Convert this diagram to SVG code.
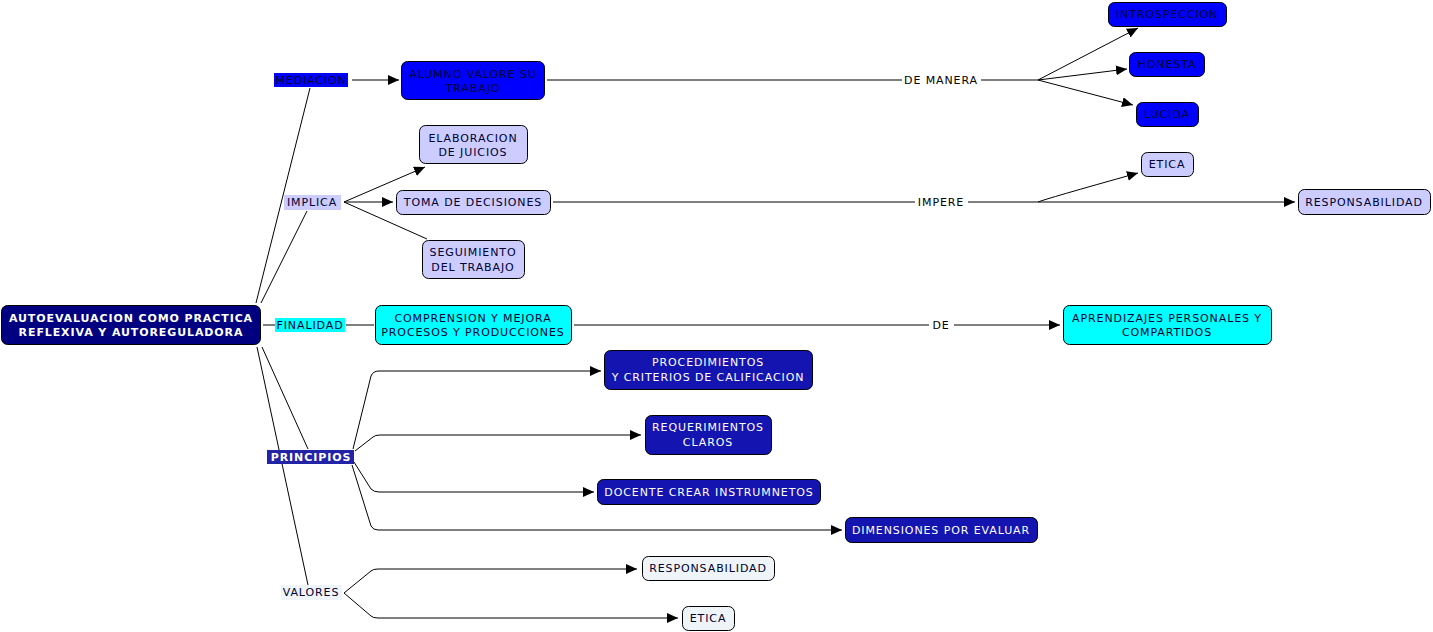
<svg xmlns="http://www.w3.org/2000/svg" width="1433" height="632" viewBox="0 0 1433 632">
<style>
text{font-family:"DejaVu Sans",Verdana,sans-serif;font-size:11px;letter-spacing:0.9px;text-anchor:middle;dominant-baseline:central}
.c{fill:none;stroke:#000;stroke-width:1}
.box{stroke:#000;stroke-width:1}
.dark{fill:#000033}
.wt{fill:#ffffff}
.bd{font-weight:bold}
</style>
<defs>
<marker id="ah" markerWidth="11" markerHeight="10" refX="11" refY="5" orient="auto" markerUnits="userSpaceOnUse">
<path d="M0,0 L11,5 L0,10 z" fill="#000"/>
</marker>
</defs>
<rect width="1433" height="632" fill="#fff"/>
<g id="connectors">
<line class="c" x1="256" y1="303" x2="310" y2="88"/>
<line class="c" x1="261" y1="303" x2="307" y2="211"/>
<line class="c" x1="263" y1="325" x2="275" y2="325"/>
<line class="c" x1="262" y1="347" x2="308" y2="449"/>
<line class="c" x1="257" y1="347" x2="308" y2="585"/>
<line class="c" x1="352" y1="80" x2="399" y2="80" marker-end="url(#ah)"/>
<line class="c" x1="547" y1="80" x2="902" y2="80"/>
<line class="c" x1="981" y1="80" x2="1038" y2="80"/>
<line class="c" x1="1038" y1="80" x2="1138" y2="28" marker-end="url(#ah)"/>
<line class="c" x1="1038" y1="80" x2="1127" y2="69" marker-end="url(#ah)"/>
<line class="c" x1="1038" y1="80" x2="1133" y2="105" marker-end="url(#ah)"/>
<line class="c" x1="344" y1="202" x2="425" y2="167" marker-end="url(#ah)"/>
<line class="c" x1="344" y1="202" x2="393" y2="202" marker-end="url(#ah)"/>
<line class="c" x1="344" y1="202" x2="427" y2="239"/>
<line class="c" x1="553" y1="202" x2="915" y2="202"/>
<line class="c" x1="968" y1="202" x2="1295" y2="202" marker-end="url(#ah)"/>
<path class="c" d="M1038,202 Q1045,199 1138,173" marker-end="url(#ah)"/>
<line class="c" x1="346" y1="325" x2="374" y2="325"/>
<line class="c" x1="574" y1="325" x2="929" y2="325"/>
<line class="c" x1="954" y1="325" x2="1060" y2="325" marker-end="url(#ah)"/>
<path class="c" d="M353,449 L371,376 Q373,371 379,371 L601,371" marker-end="url(#ah)"/>
<path class="c" d="M355,451 L373,437 Q375,435 380,435 L641,435" marker-end="url(#ah)"/>
<path class="c" d="M354,462 L371,489 Q374,492 379,492 L594,492" marker-end="url(#ah)"/>
<path class="c" d="M352,465 L371,526 Q373,530 378,530 L842,530" marker-end="url(#ah)"/>
<path class="c" d="M344,593 L371,571 Q373,569 378,569 L637,569" marker-end="url(#ah)"/>
<path class="c" d="M344,593 L371,616 Q373,618 378,618 L678,618" marker-end="url(#ah)"/>
</g>
<g id="main">
<rect class="box" x="1.5" y="305.5" width="259" height="39" rx="6" fill="#000080"/>
<text class="wt bd" x="131" y="318">AUTOEVALUACION COMO PRACTICA</text>
<text class="wt bd" x="131" y="332">REFLEXIVA Y AUTOREGULADORA</text>
</g>
<g id="mediacion">
<rect x="274" y="73" width="74" height="14" fill="#0000ff"/>
<text class="dark" x="311" y="80">MEDIACION</text>
</g>
<g id="alumno">
<rect class="box" x="401.5" y="61.5" width="143" height="38" rx="6" fill="#0000ff"/>
<text class="dark" x="473" y="74">ALUMNO VALORE SU</text>
<text class="dark" x="473" y="88">TRABAJO</text>
</g>
<g id="demanera"><text x="941" y="80">DE MANERA</text></g>
<g id="introspeccion">
<rect class="box" x="1108.5" y="2.5" width="118" height="24" rx="6" fill="#0000ff"/>
<text class="dark" x="1167" y="14">INTROSPECCION</text>
</g>
<g id="honesta">
<rect class="box" x="1129.5" y="52.5" width="75" height="24" rx="6" fill="#0000ff"/>
<text class="dark" x="1167" y="64">HONESTA</text>
</g>
<g id="lucida">
<rect class="box" x="1136.5" y="102.5" width="62" height="24" rx="6" fill="#0000ff"/>
<text class="dark" x="1167" y="114">LUCIDA</text>
</g>
<g id="implica">
<rect x="284" y="195" width="57" height="15" fill="#ccccff"/>
<text class="dark" x="312" y="202">IMPLICA</text>
</g>
<g id="elaboracion">
<rect class="box" x="419.5" y="125.5" width="108" height="38" rx="6" fill="#ccccff"/>
<text class="dark" x="473" y="138">ELABORACION</text>
<text class="dark" x="473" y="152">DE JUICIOS</text>
</g>
<g id="toma">
<rect class="box" x="396.5" y="190.5" width="154" height="24" rx="6" fill="#ccccff"/>
<text class="dark" x="473" y="202">TOMA DE DECISIONES</text>
</g>
<g id="seguimiento">
<rect class="box" x="422.5" y="240.5" width="102" height="38" rx="6" fill="#ccccff"/>
<text class="dark" x="473" y="252">SEGUIMIENTO</text>
<text class="dark" x="473" y="267">DEL TRABAJO</text>
</g>
<g id="impere"><text x="941" y="202">IMPERE</text></g>
<g id="etica1">
<rect class="box" x="1141.5" y="152.5" width="52" height="24" rx="6" fill="#ccccff"/>
<text class="dark" x="1167" y="164">ETICA</text>
</g>
<g id="responsabilidad1">
<rect class="box" x="1298.5" y="189.5" width="132" height="25" rx="6" fill="#ccccff"/>
<text class="dark" x="1364" y="202">RESPONSABILIDAD</text>
</g>
<g id="finalidad">
<rect x="275" y="318" width="70" height="14" fill="#00ffff"/>
<text class="dark" x="310" y="325">FINALIDAD</text>
</g>
<g id="comprension">
<rect class="box" x="375.5" y="305.5" width="196" height="39" rx="6" fill="#00ffff"/>
<text class="dark" x="473" y="318">COMPRENSION Y MEJORA</text>
<text class="dark" x="473" y="332">PROCESOS Y PRODUCCIONES</text>
</g>
<g id="de"><text x="941" y="325">DE</text></g>
<g id="aprendizajes">
<rect class="box" x="1063.5" y="305.5" width="208" height="39" rx="6" fill="#00ffff"/>
<text class="dark" x="1167" y="318">APRENDIZAJES PERSONALES Y</text>
<text class="dark" x="1167" y="332">COMPARTIDOS</text>
</g>
<g id="principios">
<rect x="267" y="450" width="87" height="14" fill="#2323a8"/>
<text class="wt bd" x="311" y="457">PRINCIPIOS</text>
</g>
<g id="procedimientos">
<rect class="box" x="604.5" y="350.5" width="208" height="39" rx="6" fill="#1414b0"/>
<text class="wt" x="708" y="362">PROCEDIMIENTOS</text>
<text class="wt" x="708" y="377">Y CRITERIOS DE CALIFICACION</text>
</g>
<g id="requerimientos">
<rect class="box" x="645.5" y="415.5" width="126" height="39" rx="6" fill="#1414b0"/>
<text class="wt" x="708" y="427">REQUERIMIENTOS</text>
<text class="wt" x="708" y="442">CLAROS</text>
</g>
<g id="docente">
<rect class="box" x="597.5" y="479.5" width="223" height="25" rx="6" fill="#1414b0"/>
<text class="wt" x="709" y="492">DOCENTE CREAR INSTRUMNETOS</text>
</g>
<g id="dimensiones">
<rect class="box" x="845.5" y="517.5" width="192" height="25" rx="6" fill="#1414b0"/>
<text class="wt" x="941" y="530">DIMENSIONES POR EVALUAR</text>
</g>
<g id="valores">
<rect x="281" y="585" width="61" height="15" fill="#eef4f8"/>
<text class="dark" x="311" y="592">VALORES</text>
</g>
<g id="responsabilidad2">
<rect class="box" x="642.5" y="556.5" width="132" height="24" rx="6" fill="#eef4f7"/>
<text class="dark" x="708" y="568">RESPONSABILIDAD</text>
</g>
<g id="etica2">
<rect class="box" x="682.5" y="606.5" width="52" height="24" rx="6" fill="#eef4f7"/>
<text class="dark" x="708" y="618">ETICA</text>
</g>
</svg>
